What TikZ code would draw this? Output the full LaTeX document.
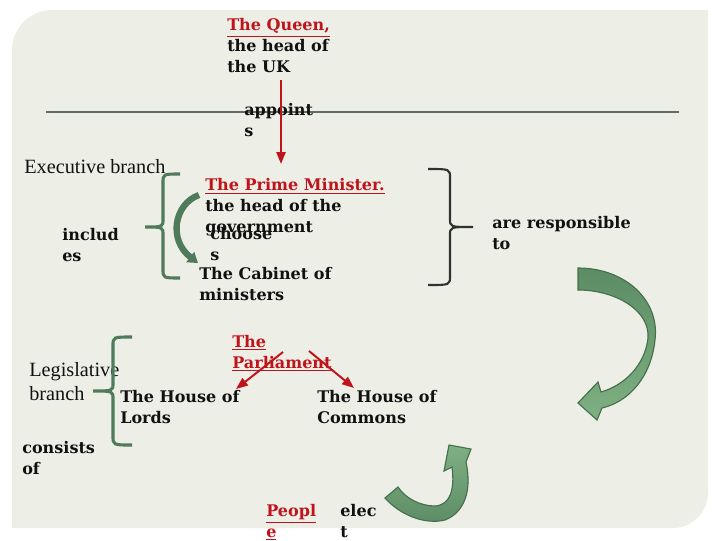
\documentclass[tikz,border=0pt]{standalone}
\usepackage{fontspec}
\setmainfont{DejaVu Serif}
\newfontfamily\branchfont{Liberation Serif}
\usetikzlibrary{arrows.meta}
\definecolor{govRed}{HTML}{C0141C}
\definecolor{govGreen}{HTML}{4F7B5A}
\definecolor{govLeafDark}{HTML}{5C8C64}
\definecolor{govLeafLight}{HTML}{7FB082}
\definecolor{govEdge}{HTML}{466E4E}
\definecolor{govDark}{HTML}{2F3330}
\definecolor{govPaper}{HTML}{EDEFE6}
\definecolor{govRule}{HTML}{5E6E64}
\definecolor{govInk}{HTML}{111111}

\begin{document}
\begin{tikzpicture}[x=0.025cm,y=-0.025cm,
  lbl/.style={anchor=base west,inner sep=0pt,align=left,text=govInk,font=\fontsize{11.4}{14.6}\selectfont\bfseries},
  branch/.style={anchor=base west,inner sep=0pt,align=left,text=govInk,font=\fontsize{14.4}{16.4}\selectfont\branchfont},
  redarrow/.style={govRed,line width=1.4pt,-{Triangle[width=6.5pt,length=8.5pt]}},
  leaf/.style={top color=govLeafDark,bottom color=govLeafLight,draw=govEdge,line width=0.8pt}]
\useasboundingbox (0,0) rectangle (720,540);
\fill[white] (0,0) rectangle (720,540);
\fill[govPaper] (708,10) -- (52,10) .. controls (30,10) and (12,28) .. (12,50) -- (12,528)
  -- (673,528) .. controls (692,528) and (708,512) .. (708,493) -- cycle;
\draw[govRule,line width=1.1pt] (46,112) -- (679,112);
\newcommand{\govbrace}[7]{%
  \draw[#7] (#1,#4) .. controls (#2,#4) .. (#2,#4+9) -- (#2,#5-8)
    .. controls (#2,#5) .. (#3,#5) .. controls (#2,#5) .. (#2,#5+8)
    -- (#2,#6-9) .. controls (#2,#6) .. (#1,#6);
}
% texts (placed at the baseline of their last line)
\node[lbl] (queen) at (227,72) {\textcolor{govRed}{\underline{The Queen,}}\\the head of\\the UK};
\node[lbl] (appoints) at (244,136) {appoint\\s};
\node[branch] (exec) at (24,173) {Executive branch};
\node[lbl] (pm) at (205,232) {\textcolor{govRed}{\underline{The Prime Minister.}}\\the head of the\\government};
\node[lbl] (chooses) at (210,260) {choose\\s};
\node[lbl] (cabinet) at (199,300) {The Cabinet of\\ministers};
\node[lbl] (includes) at (62,261) {includ\\es};
\node[lbl] (responsible) at (492,249) {are responsible\\to};
\node[branch] (legis) at (29,400) {Legislative\\branch};
\node[lbl] (parliament) at (232,368) {\textcolor{govRed}{\underline{The}}\\\textcolor{govRed}{\underline{Parliament}}};
\node[lbl] (lords) at (120,423) {The House of\\Lords};
\node[lbl] (commons) at (317,423) {The House of\\Commons};
\node[lbl] (consists) at (22,474) {consists\\of};
\node[lbl] (people) at (266,537) {\textcolor{govRed}{\underline{Peopl}}\\\textcolor{govRed}{\underline{e}}};
\node[lbl] (elect) at (340,537) {elec\\t};
% braces
\govbrace{180}{163}{145}{174}{227}{278}{govGreen,line width=2.2pt}
\govbrace{428}{450}{473}{169}{227}{285}{govDark,line width=1.5pt}
\govbrace{132}{113}{93}{337}{391}{445}{govGreen,line width=2.2pt}
% red arrows
\coordinate (appointStart) at (281,80);
\coordinate (appointEnd) at (281,164);
\coordinate (lordsStart) at (283,352);
\coordinate (lordsEnd) at (236,389);
\coordinate (commonsStart) at (309,351);
\coordinate (commonsEnd) at (354,388);
\draw[redarrow] (appointStart) -- (appointEnd);
\draw[redarrow] (lordsStart) -- (lordsEnd);
\draw[redarrow] (commonsStart) -- (commonsEnd);
% green arrows
\coordinate (chooseStart) at (199,195);
\coordinate (chooseEnd) at (198,263);
\draw[govGreen,line width=4.5pt,-{Triangle[width=9pt,length=7pt]}] (chooseStart)
  .. controls (174,204) and (168,240) .. (chooseEnd);
\shadedraw[leaf] (578,268) .. controls (625,268) and (660,300) .. (655,340)
  .. controls (651,378) and (628,402) .. (602,408) -- (597,420) -- (578,403) -- (598,382)
  -- (601,392) .. controls (625,385) and (645,365) .. (648,338)
  .. controls (650,310) and (615,290) .. (578,290) -- cycle;
\shadedraw[leaf,top color=govLeafLight,bottom color=govLeafDark] (385,498)
  .. controls (400,515) and (425,525) .. (445,520) .. controls (465,512) and (472,490) .. (466,462)
  -- (471,449) -- (449,445) -- (444,471) -- (452,467)
  .. controls (455,490) and (450,505) .. (435,506) .. controls (420,506) and (405,498) .. (398,487) -- cycle;
\end{tikzpicture}
\end{document}
